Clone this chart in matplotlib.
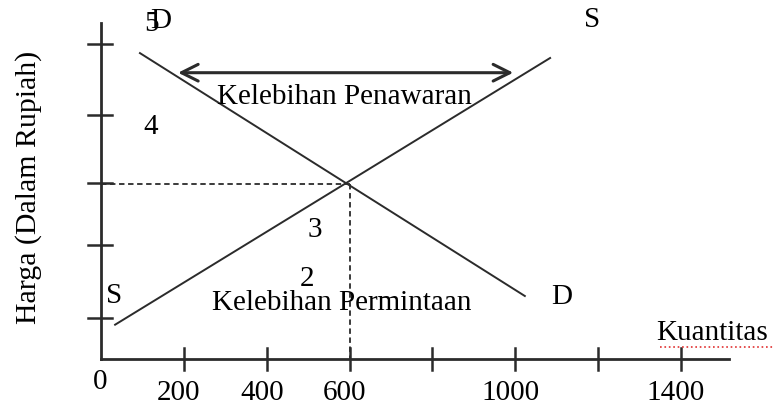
import matplotlib
matplotlib.use("Agg")
import matplotlib.pyplot as plt

# quantity axis ticks and the labels that are written under some of them
qty_ticks = [200, 400, 600, 800, 1000, 1200, 1400]
qty_labels = ["200", "400", "600", "", "1000", "", "1400"]
# price ticks on the vertical axis (hand placed, uneven spacing)
price_ticks = [0.59, 1.63, 2.51, 3.49, 4.5]

# supply and demand lines (quantity, price)
supply_q = [34, 1084]
supply_p = [0.49, 4.3]
demand_q = [94, 1023]
demand_p = [4.37, 0.9]

eq_q = 600
eq_p = 2.5

# surplus arrow at the upper price
surplus_q = [186, 995]
surplus_p = 4.09

ink = "#2b2b2b"
font = "Liberation Serif"
fs = 21

fig = plt.figure(figsize=(7.73, 4.15), dpi=100)
ax = fig.add_axes([0, 0, 1, 1])
ax.set_xlim(-243.8, 1622.0)
ax.set_ylim(-0.8, 5.1286)
ax.axis("off")

# axes drawn by hand
ax.plot([0, 1516], [0, 0], color=ink, lw=2)
ax.plot([0, 0], [0, 4.8], color=ink, lw=2)
for q in qty_ticks:
    ax.plot([q, q], [-0.157, 0.157], color=ink, lw=1.8)
for p in price_ticks:
    ax.plot([-31, 27], [p, p], color=ink, lw=1.8)

# curves
ax.plot(supply_q, supply_p, color=ink, lw=1.4)
ax.plot(demand_q, demand_p, color=ink, lw=1.4)

# equilibrium guides
ax.plot([0, eq_q], [eq_p, eq_p], color=ink, lw=1.3, ls=(0, (3, 2)))
ax.plot([eq_q, eq_q], [eq_p, 0], color=ink, lw=1.3, ls=(0, (3, 2)))

ax.annotate("", xy=(surplus_q[1], surplus_p), xytext=(surplus_q[0], surplus_p),
            arrowprops=dict(arrowstyle="<->,head_length=0.6,head_width=0.3",
                            mutation_scale=20, lw=2.2, color=ink, shrinkA=0, shrinkB=0))

def label(x, y, s, **kw):
    ax.text(x, y, s, family=font, fontsize=fs, ha="center", va="center", **kw)

label(121, 4.786, "5")
label(144, 4.83, "D")
label(121, 3.314, "4")
label(517, 1.843, "3")
label(497, 1.15, "2")
label(1185, 4.843, "S")
label(31, 0.9, "S")
label(1113, 0.886, "D")
label(587, 3.743, "Kelebihan Penawaran")
label(582, 0.8, "Kelebihan Permintaan")
label(1475, 0.371, "Kuantitas")
ax.plot([1350, 1622], [0.17, 0.17], color="#e03030", lw=1.2, ls=":")

label(-2, -0.33, "0")
for q, s in zip(qty_ticks, qty_labels):
    if s:
        label(q - 12, -0.486, s)

ax.text(-175, 2.457, "Harga (Dalam Rupiah)", family=font, fontsize=21.5,
        rotation=90, ha="center", va="center")

fig.savefig("out.png", dpi=100)
